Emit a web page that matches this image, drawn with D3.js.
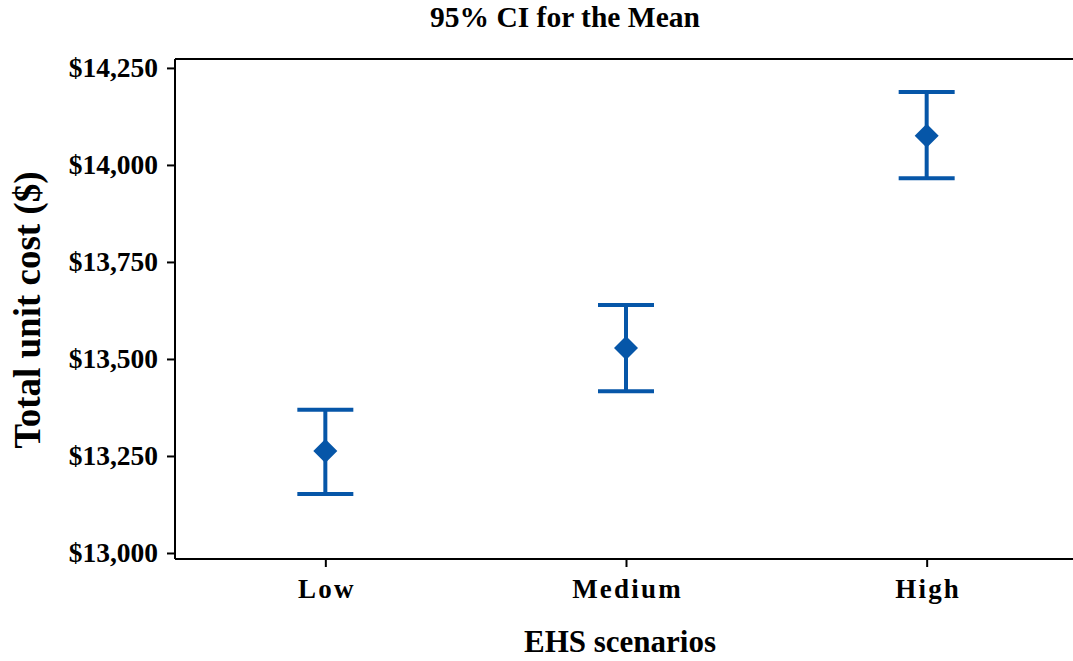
<!DOCTYPE html>
<html>
<head>
<meta charset="utf-8">
<script src="https://cdn.jsdelivr.net/npm/d3@7"></script>
<style>
  html, body { margin: 0; padding: 0; background: #fff; }
  text { font-family: "Liberation Serif", "Times New Roman", serif; font-weight: bold; fill: #000; }
</style>
</head>
<body>
<svg id="chart" width="1073" height="661"></svg>
<script>
// EHS scenario categories and 95% confidence intervals of total unit cost
const categories = ["Low", "Medium", "High"];
const means = [13263, 13528, 14075];
const lowerCI = [13152, 13417, 13966];
const upperCI = [13369, 13639, 14188];
const yTicks = [13000, 13250, 13500, 13750, 14000, 14250];

(function draw() {
  const svg = d3.select("#chart");
  const W = 1073;
  const mLeft = 175, mRight = 1077, mTop = 59, mBottom = 559;
  const blue = "#0656a8";

  const x = d3.scalePoint().domain(categories).range([mLeft, mRight]).padding(0.5);
  const y = d3.scaleLinear().domain([12984.5, 14273]).range([mBottom, mTop]);

  // top frame line
  svg.append("line").attr("x1", mLeft).attr("x2", W).attr("y1", mTop).attr("y2", mTop)
    .attr("stroke", "#000").attr("stroke-width", 2);

  const yAxis = d3.axisLeft(y).tickValues(yTicks).tickSize(8).tickPadding(9)
    .tickFormat(d => "$" + d3.format(",")(d));
  const gy = svg.append("g").attr("transform", `translate(${mLeft},0)`).call(yAxis);
  gy.select(".domain").attr("d", `M0,${mTop}V${mBottom}`).attr("stroke-width", 2);
  gy.selectAll(".tick line").attr("stroke-width", 2);
  gy.selectAll(".tick text").style("font-size", "27.5px");

  const xAxis = d3.axisBottom(x).tickSize(8);
  const gx = svg.append("g").attr("transform", `translate(0,${mBottom})`).call(xAxis);
  gx.select(".domain").attr("d", `M${mLeft},0H${W}`).attr("stroke-width", 2);
  gx.selectAll(".tick line").attr("stroke-width", 2);
  gx.selectAll(".tick text").attr("y", 39).attr("dy", 0).attr("dx", 1)
    .style("font-size", "27px").style("letter-spacing", "2.2px");

  // interval bars
  const capHalf = 28;
  const rows = categories.map((c, i) => ({ c, m: means[i], lo: lowerCI[i], hi: upperCI[i] }));
  const g = svg.append("g").attr("stroke", blue).attr("stroke-width", 4).attr("fill", "none");
  g.selectAll("line.v").data(rows).join("line").attr("class", "v")
    .attr("x1", d => x(d.c)).attr("x2", d => x(d.c))
    .attr("y1", d => y(d.hi)).attr("y2", d => y(d.lo));
  g.selectAll("line.hi").data(rows).join("line").attr("class", "hi")
    .attr("x1", d => x(d.c) - capHalf).attr("x2", d => x(d.c) + capHalf)
    .attr("y1", d => y(d.hi)).attr("y2", d => y(d.hi));
  g.selectAll("line.lo").data(rows).join("line").attr("class", "lo")
    .attr("x1", d => x(d.c) - capHalf).attr("x2", d => x(d.c) + capHalf)
    .attr("y1", d => y(d.lo)).attr("y2", d => y(d.lo));

  // mean markers
  svg.append("g").selectAll("path").data(rows).join("path")
    .attr("d", () => { const r = 12; return `M0,${-r}L${r},0L0,${r}L${-r},0Z`; })
    .attr("transform", d => `translate(${x(d.c)},${y(d.m)})`)
    .attr("fill", blue);

  // titles
  svg.append("text").attr("x", 565).attr("y", 27).attr("text-anchor", "middle")
    .style("font-size", "29.5px").text("95% CI for the Mean");
  svg.append("text").attr("x", 620).attr("y", 652).attr("text-anchor", "middle")
    .style("font-size", "31px").text("EHS scenarios");
  svg.append("text").attr("transform", "translate(40,310) rotate(-90)").attr("text-anchor", "middle")
    .style("font-size", "37px").text("Total unit cost ($)");
})();
</script>
</body>
</html>
